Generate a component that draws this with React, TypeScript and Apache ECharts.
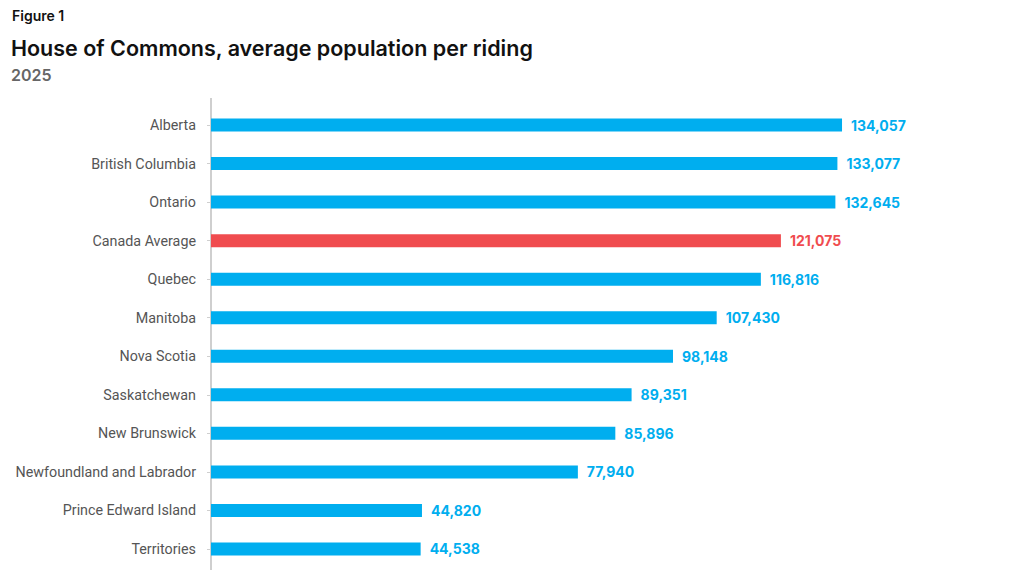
import React, { useEffect, useRef } from "react";
import * as echarts from "echarts";

const categories = [
  "Alberta",
  "British Columbia",
  "Ontario",
  "Canada Average",
  "Quebec",
  "Manitoba",
  "Nova Scotia",
  "Saskatchewan",
  "New Brunswick",
  "Newfoundland and Labrador",
  "Prince Edward Island",
  "Territories",
];
const values = [134057, 133077, 132645, 121075, 116816, 107430, 98148, 89351, 85896, 77940, 44820, 44538];
const highlight = "Canada Average";

const BLUE = "#00AEEF";
const RED = "#F04C4F";

export default function App() {
  const ref = useRef<HTMLDivElement>(null);
  useEffect(() => {
    if (!ref.current) return;
    const chart = echarts.init(ref.current, undefined, { renderer: "svg" });
    chart.setOption({
      animation: false,
      backgroundColor: "#ffffff",
      graphic: [
        {
          type: "text",
          left: 12,
          top: 8,
          style: { text: "Figure 1", font: "600 14px Inter, 'Open Sans', sans-serif", fill: "#111" },
        },
        {
          type: "text",
          left: 11,
          top: 37,
          style: { text: "House of Commons, average population per riding", font: "600 21.5px Inter, 'Open Sans', sans-serif", fill: "#111" },
        },
        {
          type: "text",
          left: 11,
          top: 67,
          style: { text: "2025", font: "600 16px Inter, 'Open Sans', sans-serif", fill: "#666" },
        },
        {
          type: "line",
          shape: { x1: 211, y1: 98, x2: 211, y2: 570 },
          style: { stroke: "#cfcfcf", lineWidth: 2 },
        },
      ],
      grid: { left: 211, top: 105.75, height: 462.5, width: 659, containLabel: false },
      xAxis: {
        type: "value",
        min: 0,
        max: 140000,
        show: false,
      },
      yAxis: {
        type: "category",
        data: categories,
        inverse: true,
        axisLine: { show: false },
        axisTick: { show: true, alignWithLabel: true, length: 4, lineStyle: { color: "#cfcfcf" } },
        axisLabel: {
          margin: 15,
          fontFamily: "Roboto, sans-serif",
          fontSize: 14.3,
          color: "#555",
        },
      },
      series: [
        {
          type: "bar",
          barWidth: 13,
          data: categories.map((c, i) => ({
            value: values[i],
            itemStyle: { color: c === highlight ? RED : BLUE },
            label: { color: c === highlight ? RED : BLUE },
          })),
          label: {
            show: true,
            position: "right",
            distance: 9,
            fontFamily: "Inter, 'Open Sans', sans-serif",
            fontWeight: 700,
            fontSize: 14,
            formatter: (p: any) => p.value.toLocaleString("en-US"),
          },
        },
      ],
    });
    return () => chart.dispose();
  }, []);
  return <div ref={ref} style={{ width: 1024, height: 578, position: "absolute", left: 0, top: 0 }} />;
}
